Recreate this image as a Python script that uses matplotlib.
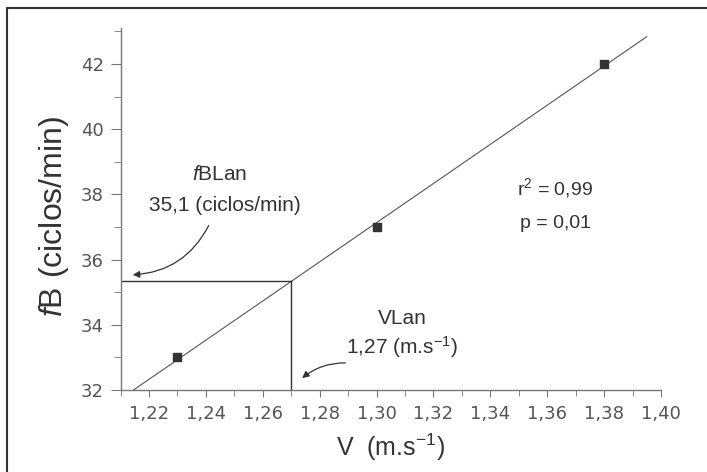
import numpy as np
import matplotlib
matplotlib.use("Agg")
import matplotlib.pyplot as plt
from matplotlib.ticker import MultipleLocator, FuncFormatter
from matplotlib.patches import Rectangle

plt.rcParams['font.family'] = ['Liberation Sans', 'DejaVu Sans']
plt.rcParams['mathtext.fontset'] = 'custom'
plt.rcParams['mathtext.rm'] = 'Liberation Sans'
plt.rcParams['mathtext.it'] = 'Liberation Sans:italic'

# data
v_values = [1.23, 1.30, 1.38]
fb_values = [33, 37, 42]
v_lan = 1.27
line_x_end = 1.395
x_ticks = [1.22, 1.24, 1.26, 1.28, 1.30, 1.32, 1.34, 1.36, 1.38, 1.40]
y_ticks = [32, 34, 36, 38, 40, 42]

slope, intercept = np.polyfit(v_values, fb_values, 1)

fig = plt.figure(figsize=(7.07, 4.72), dpi=100)
ax = fig.add_axes([120.6/707, 1-390/472, (661-120.6)/707, (390-28)/472])
xmin, xmax = 1.21, 1.40
ymin, ymax = 32, 32 + (390-28)/32.6
ax.set_xlim(xmin, xmax)
ax.set_ylim(ymin, ymax)

# regression line
x_start = (ymin - intercept) / slope
lx = np.array([x_start, line_x_end])
ax.plot(lx, slope*lx + intercept, color='#555555', lw=0.8, clip_on=False)

# points
ax.scatter(v_values, fb_values, marker='s', s=30, color='#333333', zorder=3, clip_on=False)

# threshold lines
fb_lan = slope*v_lan + intercept
ax.plot([xmin, v_lan], [fb_lan, fb_lan], color='#333333', lw=1.0)
ax.plot([v_lan, v_lan], [ymin, fb_lan], color='#333333', lw=1.0)

# axes styling
for s in ['top', 'right']:
    ax.spines[s].set_visible(False)
for s in ['left', 'bottom']:
    ax.spines[s].set_color('#777777')
    ax.spines[s].set_linewidth(1.0)
ax.set_xticks(x_ticks)
ax.set_yticks(y_ticks)
ax.xaxis.set_minor_locator(MultipleLocator(0.01))
ax.yaxis.set_minor_locator(MultipleLocator(1))
ax.xaxis.set_major_formatter(FuncFormatter(lambda v, p: f"{v:.2f}".replace('.', ',')))
ax.tick_params(axis='both', which='both', direction='out', color='#777777',
               labelcolor='#555555', labelsize=13)
ax.tick_params(axis='x', which='major', length=5, pad=6)
ax.tick_params(axis='x', which='minor', length=4)
ax.tick_params(axis='y', which='major', length=7, pad=5)
ax.tick_params(axis='y', which='minor', length=5)
for lab in ax.get_xticklabels() + ax.get_yticklabels():
    lab.set_family('DejaVu Sans')

ax.set_xlabel(r'V  (m.s$^{-1}$)', fontsize=18, color='#333333', labelpad=6)
ax.set_ylabel(r'$\mathit{f}$B (ciclos/min)', fontsize=23, color='#333333')
ax.yaxis.set_label_coords(-0.092, 0.48)

# annotations
tc = '#333333'
ax.text(1.245, 38.6, r'$\mathit{f}$BLan', fontsize=15, ha='center', va='center', color=tc)
ax.text(1.2467, 37.67, '35,1 (ciclos/min)', fontsize=15, ha='center', va='center', color=tc)
ax.annotate('', xy=(1.2133, 35.53), xytext=(1.2414, 37.12),
            arrowprops=dict(arrowstyle='-|>', color='#333333', lw=0.9,
                            connectionstyle='arc3,rad=-0.3', mutation_scale=10))
ax.text(1.309, 34.2, 'VLan', fontsize=15, ha='center', va='center', color=tc)
ax.text(1.309, 33.32, r'1,27 (m.s$^{-1}$)', fontsize=15, ha='center', va='center', color=tc)
ax.annotate('', xy=(1.2731, 32.31), xytext=(1.29, 32.83),
            arrowprops=dict(arrowstyle='-|>', color='#333333', lw=0.9,
                            connectionstyle='arc3,rad=0.2', mutation_scale=10))
ax.text(1.3628, 38.2, r'r$^{2}$ = 0,99', fontsize=14, ha='center', va='center', color=tc)
ax.text(1.363, 37.12, 'p = 0,01', fontsize=14, ha='center', va='center', color=tc)

# outer frame
fig.patches.append(Rectangle((7/707, -0.1), 1.2, 1 - 8/472 + 0.1, transform=fig.transFigure,
                             fill=False, edgecolor='#333333', lw=1.5))

fig.savefig('out.png', dpi=100)
